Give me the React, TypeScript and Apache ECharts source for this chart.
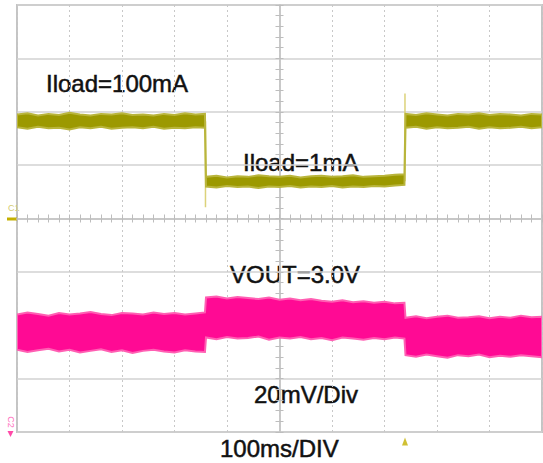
import React, { useEffect, useRef } from "react";
import * as echarts from "echarts";

// time relative to screen centre, ms (100 ms / div)
const timeMs = [
  -500, -480, -460, -440, -420, -400, -380, -360, -340, -320, -300, -280, -260, -240, -220, -200, -180, -160, -142,
  -140, -120, -100, -80, -60, -40, -20, 0, 20, 40, 60, 80, 100, 120, 140, 160, 180, 200, 220, 238,
  240, 260, 280, 300, 320, 340, 360, 380, 400, 420, 440, 460, 480, 500,
];

// CH1 (load current) band, in divisions
const yellowUpper = [
  1.95, 1.97, 1.93, 1.96, 1.94, 1.98, 1.95, 1.93, 1.96, 1.95, 1.97, 1.94, 1.95, 1.93, 1.96, 1.94, 1.97, 1.95, 1.96,
  0.78, 0.8, 0.77, 0.79, 0.78, 0.81, 0.79, 0.78, 0.8, 0.77, 0.79, 0.8, 0.78, 0.79, 0.81, 0.78, 0.79, 0.8, 0.82, 0.83,
  1.96, 1.94, 1.97, 1.95, 1.93, 1.96, 1.95, 1.97, 1.94, 1.96, 1.95, 1.93, 1.96, 1.95,
];
const yellowLower = [
  1.71, 1.68, 1.72, 1.69, 1.7, 1.67, 1.71, 1.69, 1.72, 1.68, 1.7, 1.71, 1.69, 1.72, 1.68, 1.7, 1.69, 1.71, 1.7,
  0.6, 0.58, 0.61, 0.59, 0.6, 0.57, 0.6, 0.59, 0.61, 0.58, 0.6, 0.59, 0.61, 0.58, 0.6, 0.59, 0.61, 0.6, 0.62, 0.63,
  1.7, 1.72, 1.68, 1.71, 1.69, 1.7, 1.72, 1.68, 1.71, 1.69, 1.7, 1.72, 1.69, 1.71,
];

// CH2 (VOUT ripple) band, in divisions
const pinkUpper = [
  -1.8, -1.76, -1.79, -1.82, -1.77, -1.8, -1.78, -1.75, -1.79, -1.81, -1.77, -1.78, -1.8, -1.76, -1.79, -1.77, -1.8, -1.78, -1.76,
  -1.48, -1.46, -1.5, -1.47, -1.49, -1.51, -1.48, -1.52, -1.5, -1.53, -1.51, -1.54, -1.56, -1.53, -1.57, -1.55, -1.58, -1.56, -1.59, -1.58,
  -1.86, -1.83, -1.87, -1.84, -1.82, -1.86, -1.85, -1.83, -1.87, -1.84, -1.86, -1.82, -1.85, -1.84,
];
const pinkLower = [
  -2.46, -2.5, -2.47, -2.44, -2.49, -2.46, -2.51, -2.48, -2.45, -2.5, -2.47, -2.52, -2.48, -2.46, -2.49, -2.51, -2.47, -2.49, -2.5,
  -2.23, -2.26, -2.22, -2.25, -2.24, -2.21, -2.27, -2.23, -2.25, -2.22, -2.26, -2.24, -2.28, -2.23, -2.25, -2.27, -2.24, -2.26, -2.23, -2.25,
  -2.56, -2.59, -2.55, -2.58, -2.61, -2.56, -2.58, -2.55, -2.6, -2.57, -2.59, -2.56, -2.58, -2.6,
];

// switching spikes on CH1
const spikeTime = [-141, 239];
const spikeFrom = [1.82, 0.7];
const spikeTo = [0.21, 2.34];

// trigger position
const triggerTime = [239];

const traces = [
  { hi: yellowUpper, lo: yellowLower, fill: "#9c9900", edge: "#b9b53c" },
  { hi: pinkUpper, lo: pinkLower, fill: "#ff0a94", edge: "#ff5fb3" },
];

const FONT = "24px 'Liberation Sans', Arial, sans-serif";
const labelStyle = { font: FONT, fill: "#111", stroke: "#111", lineWidth: 0.5, textVerticalAlign: "middle" };

export default function App() {
  const ref = useRef<HTMLDivElement>(null);
  useEffect(() => {
    if (!ref.current) return;
    const chart = echarts.init(ref.current, undefined, { renderer: "svg" });
    const tickStyle = { color: "#bdbdbd", width: 1 };
    const axisCommon = {
      axisLine: { show: true, onZero: true, onZeroAxisIndex: 0, lineStyle: { color: "#c6c6c6", width: 1.5 } },
      axisTick: { show: true, length: 4, lineStyle: tickStyle },
      minorTick: { show: true, splitNumber: 5, length: 4, lineStyle: tickStyle },
      axisLabel: { show: false },
    };
    chart.setOption({
      animation: false,
      backgroundColor: "#ffffff",
      grid: {
        left: 17,
        top: 5,
        width: 525,
        height: 427,
        show: true,
        borderColor: "#c4c4c4",
        borderWidth: 2,
        backgroundColor: "#ffffff",
      },
      xAxis: [
        {
          type: "value",
          min: -500,
          max: 500,
          interval: 100,
          position: "bottom",
          ...axisCommon,
          splitLine: { show: true, lineStyle: { color: "#c8c8c8", width: 1, type: [2, 3] } },
        },
        {
          type: "value",
          min: -500,
          max: 500,
          interval: 100,
          position: "top",
          ...axisCommon,
          splitLine: { show: false },
        },
      ],
      yAxis: [
        {
          type: "value",
          min: -4,
          max: 4,
          interval: 1,
          position: "left",
          ...axisCommon,
          splitLine: { show: true, lineStyle: { color: "#d2d2d2", width: 1.5 } },
        },
        {
          type: "value",
          min: -4,
          max: 4,
          interval: 1,
          position: "right",
          ...axisCommon,
          splitLine: { show: false },
        },
      ],
      series: [
        {
          type: "custom",
          coordinateSystem: "cartesian2d",
          silent: true,
          clip: true,
          data: traces.map((_, i) => [i, 0]),
          renderItem: (params: any, api: any) => {
            const tr = traces[api.value(0)];
            const pts: number[][] = [];
            for (let k = 0; k < timeMs.length; k++) pts.push(api.coord([timeMs[k], tr.hi[k]]));
            for (let k = timeMs.length - 1; k >= 0; k--) pts.push(api.coord([timeMs[k], tr.lo[k]]));
            return {
              type: "polygon",
              shape: { points: pts },
              style: { fill: tr.fill, stroke: tr.edge, lineWidth: 2 },
            };
          },
        },
        ...spikeTime.map((t, i) => ({
          type: "line",
          silent: true,
          symbol: "none",
          z: 1,
          lineStyle: { color: "#dcd27a", width: 1.5 },
          data: [
            [t, spikeFrom[i]],
            [t, spikeTo[i]],
          ],
        })),
        {
          type: "scatter",
          silent: true,
          clip: false,
          symbol: "triangle",
          symbolSize: [6, 8],
          itemStyle: { color: "#c4b000" },
          data: triggerTime.map((t) => [t, -4.18]),
        },
      ],
      graphic: [
        { type: "text", x: 46, y: 83.5, style: { text: "Iload=100mA", ...labelStyle } },
        { type: "text", x: 243, y: 162.5, style: { text: "Iload=1mA", ...labelStyle } },
        { type: "text", x: 230, y: 274.5, style: { text: "VOUT=3.0V", ...labelStyle } },
        { type: "text", x: 254, y: 394.5, style: { text: "20mV/Div", ...labelStyle } },
        { type: "text", x: 220, y: 448.5, style: { text: "100ms/DIV", ...labelStyle } },
        { type: "text", x: 8, y: 208, style: { text: "C1", font: "9px 'Liberation Sans', Arial, sans-serif", fill: "#d4cc70", textVerticalAlign: "middle" } },
        { type: "rect", shape: { x: 7, y: 217.5, width: 10, height: 3 }, style: { fill: "#c4b000" } },
        {
          type: "text",
          x: 11,
          y: 422,
          rotation: -Math.PI / 2,
          style: { text: "C2", font: "9px 'Liberation Sans', Arial, sans-serif", fill: "#ff70c0", textAlign: "center", textVerticalAlign: "middle" },
        },
        { type: "polygon", shape: { points: [[7.5, 431], [13.5, 431], [10.5, 437]] }, style: { fill: "#ff4aa8" } },
      ],
    });
    return () => chart.dispose();
  }, []);
  return <div ref={ref} style={{ position: "fixed", left: 0, top: 0, width: 543, height: 463 }} />;
}
